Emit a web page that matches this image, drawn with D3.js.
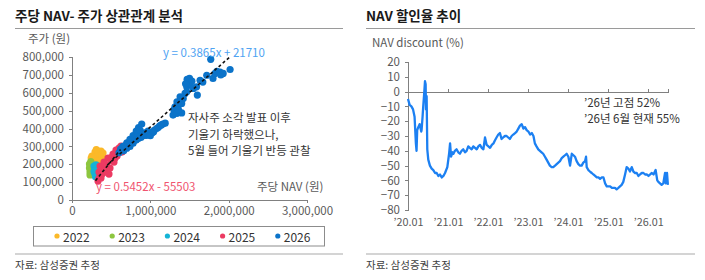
<!DOCTYPE html>
<html><head><meta charset="utf-8">
<script src="https://cdn.jsdelivr.net/npm/d3@7"></script>
<style>
body{margin:0;background:#fff}
svg{display:block}
text{font-family:"Noto Sans CJK KR","Noto Sans",sans-serif}
</style>
</head><body>
<svg id="c" width="705" height="280"></svg>
<script>
// ---------- Left chart data: [주당 NAV, 주가] ----------
const years = ["2022", "2023", "2024", "2025", "2026"];
const yearColors = ["#FBB929", "#8DC63F", "#14B4D6", "#EC3A62", "#0B73C9"];
const pts2022 = [[255000,246000],[255000,223000],[294000,268000],[294000,240000],[332000,274000],[332000,246000],
  [370000,274000],[370000,246000],[396000,263000],[409000,235000],[319000,218000],[358000,218000],[268000,207000],
  [345000,262000],[383000,255000],[245000,235000],[310000,282000]];
const pts2023 = [[223000,201000],[223000,179000],[230000,156000],[230000,140000],[243000,190000],[255000,168000],[240000,215000]];
const pts2024 = [[281000,190000],[294000,168000],[294000,145000],[306000,196000],[319000,179000],[281000,160000],[300000,130000]];
const pts2025 = [[345000,123000],[345000,156000],[358000,190000],[383000,145000],[396000,179000],[409000,212000],
  [434000,156000],[447000,190000],[460000,235000],[472000,145000],[485000,179000],[498000,223000],[524000,257000],
  [536000,212000],[562000,279000],[575000,246000],[600000,290000],[626000,302000],[639000,268000],[332000,106000],
  [370000,123000],[420000,200000],[510000,240000],[550000,235000]];
const pts2026 = [[600000,265000],[620000,285000],[650000,300000],[660000,275000],[700000,290000],[700000,320000],
  [740000,300000],[740000,340000],[780000,318000],[780000,360000],[820000,335000],[820000,385000],[850000,345000],
  [850000,405000],[880000,350000],[890000,425000],[910000,360000],[950000,362000],[980000,370000],[1020000,375000],
  [1050000,390000],[1080000,400000],[1120000,415000],[1160000,425000],[1190000,430000],[1290000,475000],
  [1300000,505000],[1315000,521000],[1340000,485000],[1340000,549000],[1360000,530000],[1400000,487000],
  [1360000,503000],[1380000,577000],[1400000,559000],[1400000,540000],[1420000,568000],[1443000,596000],
  [1465000,605000],[1465000,633000],[1486000,670000],[1490000,650000],[1510000,652000],[1470000,675000],
  [1500000,680000],[1530000,665000],[1450000,650000],[1550000,624000],[1600000,587000],[1590000,633000],
  [1635000,670000],[1670000,660000],[1720000,698000],[1771000,787000],[1800000,680000],[1826000,708000],
  [1850000,720000],[1890000,715000],[1900000,700000],[1930000,708000],[2018000,730000],
  [640000,290000],[680000,305000],[720000,310000],[760000,330000],[800000,350000],[840000,370000],[870000,390000],
  [930000,375000],[970000,385000],[1000000,360000],[1040000,380000],[1100000,405000],[1140000,420000]];
const seriesPts = [pts2022, pts2023, pts2024, pts2025, pts2026];
const trendA = {slope: 0.3865, intercept: 21710, from: 450000, to: 2030000, label: "y = 0.3865x + 21710"};
const trendB = {slope: 0.5452, intercept: -55503, from: 300000, to: 620000, label: "y = 0.5452x - 55503"};
const priceTicks = [0,100000,200000,300000,400000,500000,600000,700000,800000];
const navTicks = [0,1000000,2000000,3000000];

// ---------- Right chart data: NAV discount (%) ----------
const discountDates = ["2020-01-01","2020-01-16","2020-02-01","2020-02-16","2020-03-01","2020-03-13","2020-03-19","2020-03-25",
"2020-04-04","2020-04-16","2020-05-01","2020-05-04","2020-05-13","2020-05-19","2020-05-28","2020-06-04","2020-06-10","2020-06-13",
"2020-06-19","2020-06-25","2020-07-04","2020-07-19","2020-08-04","2020-08-19","2020-09-04","2020-09-19","2020-10-04","2020-10-19",
"2020-11-04","2020-11-19","2020-12-04","2020-12-25","2021-01-10","2021-01-19","2021-01-28","2021-02-10","2021-02-19","2021-03-04",
"2021-03-19","2021-04-04","2021-04-19","2021-05-04","2021-05-19","2021-06-04","2021-06-19","2021-07-04","2021-07-19","2021-08-04",
"2021-08-19","2021-09-04","2021-09-19","2021-10-04","2021-10-19","2021-11-04","2021-11-19","2021-12-04","2021-12-19","2022-01-04",
"2022-01-19","2022-02-04","2022-02-19","2022-03-04","2022-03-19","2022-04-04","2022-04-19","2022-05-04","2022-05-19","2022-06-04",
"2022-06-19","2022-07-04","2022-07-19","2022-08-04","2022-08-19","2022-09-04","2022-09-19","2022-10-04","2022-10-19","2022-11-04",
"2022-11-19","2022-12-04","2022-12-19","2023-01-04","2023-01-19","2023-02-04","2023-02-19","2023-03-04","2023-03-19","2023-04-04",
"2023-04-19","2023-05-04","2023-05-19","2023-06-04","2023-06-19","2023-07-04","2023-07-19","2023-08-04","2023-08-19","2023-09-04",
"2023-09-19","2023-10-04","2023-10-19","2023-11-04","2023-11-19","2023-12-04","2023-12-19","2024-01-04","2024-01-19","2024-02-04",
"2024-02-19","2024-03-04","2024-03-19","2024-04-04","2024-04-19","2024-05-04","2024-05-19","2024-06-04","2024-06-13","2024-06-19",
"2024-07-04","2024-07-19","2024-08-04","2024-08-19","2024-09-04","2024-09-19","2024-10-04","2024-10-19","2024-11-04","2024-11-19",
"2024-12-04","2024-12-19","2025-01-04","2025-01-19","2025-02-04","2025-02-19","2025-03-04","2025-03-19","2025-04-04","2025-04-19",
"2025-05-04","2025-05-19","2025-06-04","2025-06-19","2025-07-04","2025-07-19","2025-08-04","2025-08-19","2025-09-04","2025-09-19",
"2025-10-04","2025-10-19","2025-11-04","2025-11-19","2025-12-04","2025-12-19","2026-01-04","2026-01-19","2026-02-04","2026-02-19",
"2026-03-10","2026-03-25","2026-04-04","2026-04-19","2026-05-04","2026-05-19","2026-06-04","2026-06-10","2026-06-22","2026-06-30"];
const discountValues = [-5,-9,-10,-12,-17,-35,-40,-26,
-24,-22,-27,-26,-17,-10,-1,7,5,-12,
-3,-39,-46,-50,-52,-53,-55,-55,-57,-56,
-58,-57,-55,-51,-42,-35,-44,-41,-42,-40,
-39,-41,-42,-40,-39,-41,-40,-37,-38,-39,
-37,-38,-39,-37,-36,-38,-39,-31,-36,-37,
-38,-36,-35,-33,-31,-29,-28,-32,-31,-30,
-30,-31,-32,-30,-29,-28,-27,-25,-23,-22,
-25,-24,-26,-27,-29,-28,-30,-35,-37,-39,
-40,-41,-42,-44,-46,-48,-50,-51,-51,-50,
-49,-48,-47,-45,-44,-43,-42,-44,-50,-42,
-43,-44,-47,-49,-50,-50,-48,-47,-44,-51,
-53,-54,-55,-56,-57,-58,-58,-59,-58,-58,
-62,-64,-64,-64,-65,-65,-65,-66,-65,-64,
-63,-61,-56,-51,-52,-54,-51,-54,-55,-55,
-57,-56,-55,-55,-56,-56,-57,-56,-55,-56,
-53,-60,-61,-62,-63,-62,-55,-62,-55,-63];
const discountTicks = [-80,-70,-60,-50,-40,-30,-20,-10,0,10,20];
const yearTickDates = ["2020-01-01","2021-01-01","2022-01-01","2023-01-01","2024-01-01","2025-01-01","2026-01-01"];

const svg = d3.select("#c");
const axisCol = "#808080", tickTxt = "#595959";

function styleAxis(g){
  g.selectAll("path,line").attr("stroke", axisCol).attr("shape-rendering","crispEdges");
  g.selectAll("text").attr("fill", tickTxt).attr("font-size", 11.5);
}

// ---------- Frames / titles ----------
function frame(x0, x1, title){
  svg.append("text").attr("x", x0).attr("y", 15).attr("dominant-baseline","central")
    .attr("font-size", 13.5).attr("font-weight", 700).attr("fill", "#1a1a1a").text(title);
  svg.append("line").attr("x1", x0).attr("x2", x1).attr("y1", 28.5).attr("y2", 28.5).attr("stroke", "#9a9a9a");
  svg.append("line").attr("x1", x0).attr("x2", x1).attr("y1", 254).attr("y2", 254).attr("stroke", "#d4d4d4").attr("stroke-width", 2);
  svg.append("text").attr("x", x0).attr("y", 264).attr("dominant-baseline","central")
    .attr("font-size", 10.5).attr("fill", "#404040").text("자료: 삼성증권 추정");
}
frame(15, 343, "주당 NAV- 주가 상관관계 분석");
frame(366, 695, "NAV 할인율 추이");

// ---------- Left scatter ----------
const xL = d3.scaleLinear().domain([0, 3000000]).range([72, 307]);
const yL = d3.scaleLinear().domain([0, 800000]).range([200, 57]);

svg.append("g").attr("transform", "translate(72,0)")
  .call(d3.axisLeft(yL).tickValues(priceTicks).tickFormat(d3.format(",")).tickSize(3).tickPadding(5))
  .call(styleAxis);
svg.append("g").attr("transform", "translate(0,200)")
  .call(d3.axisBottom(xL).tickValues(navTicks).tickFormat(d3.format(",")).tickSize(3).tickPadding(4))
  .call(styleAxis);

svg.append("text").attr("x", 28).attr("y", 38).attr("dominant-baseline","central")
  .attr("font-size", 11.5).attr("fill", tickTxt).text("주가 (원)");
svg.append("text").attr("x", 257).attr("y", 186).attr("dominant-baseline","central")
  .attr("font-size", 11.5).attr("fill", tickTxt).text("주당 NAV (원)");

seriesPts.forEach((pts, i) => {
  svg.append("g").selectAll("circle").data(pts).join("circle")
    .attr("cx", d => xL(d[0])).attr("cy", d => yL(d[1])).attr("r", 3.6)
    .attr("fill", yearColors[i]);
});

[trendB, trendA].forEach(t => {
  svg.append("line")
    .attr("x1", xL(t.from)).attr("y1", yL(t.slope * t.from + t.intercept))
    .attr("x2", xL(t.to)).attr("y2", yL(t.slope * t.to + t.intercept))
    .attr("stroke", "#111").attr("stroke-width", 1.6).attr("stroke-dasharray", "3,2.5");
});

svg.append("text").attr("x", 163).attr("y", 52).attr("dominant-baseline","central")
  .attr("font-size", 11.5).attr("fill", "#4FA3F2").text(trendA.label);
svg.append("text").attr("x", 96).attr("y", 186).attr("dominant-baseline","central")
  .attr("font-size", 11.5).attr("fill", "#F0546F").text(trendB.label);

const noteL = ["자사주 소각 발표 이후", "기울기 하락했으나,", "5월 들어 기울기 반등 관찰"];
noteL.forEach((s, i) => {
  svg.append("text").attr("x", 188).attr("y", 117 + i * 16.5).attr("dominant-baseline","central")
    .attr("font-size", 11.5).attr("fill", "#333").text(s);
});

// Legend
svg.append("rect").attr("x", 33.5).attr("y", 226.5).attr("width", 291).attr("height", 19.5)
  .attr("fill", "none").attr("stroke", "#8c8c8c");
years.forEach((yr, i) => {
  const lx = 57 + i * 55.2;
  svg.append("circle").attr("cx", lx).attr("cy", 236).attr("r", 2.6).attr("fill", yearColors[i]);
  svg.append("text").attr("x", lx + 6).attr("y", 236.5).attr("dominant-baseline","central")
    .attr("font-size", 12).attr("fill", "#333").text(yr);
});

// ---------- Right line chart ----------
const parse = d3.timeParse("%Y-%m-%d");
const lineData = discountDates.map((d, i) => ({date: parse(d), v: discountValues[i]}));
const xR = d3.scaleTime().domain([parse("2020-01-01"), parse("2026-07-01")]).range([408, 668]);
const yR = d3.scaleLinear().domain([-80, 20]).range([210, 62]);

svg.append("g").attr("transform", "translate(408,0)")
  .call(d3.axisLeft(yR).tickValues(discountTicks).tickFormat(d3.format("d")).tickSize(3).tickPadding(5))
  .call(styleAxis);
const yt = yearTickDates.map(parse);
svg.append("g").attr("transform", `translate(0,${yR(0)})`)
  .call(d3.axisBottom(xR).tickValues(yt).tickSize(-3).tickFormat(""))
  .call(styleAxis);
svg.append("g").attr("transform", "translate(0,217)")
  .call(d3.axisBottom(xR).tickValues(yt).tickSize(0).tickPadding(1).tickFormat(d3.timeFormat("’%y.%m")))
  .call(g => g.select(".domain").remove())
  .call(styleAxis)
  .call(g => g.selectAll("text").attr("font-size", 10.8));

svg.append("text").attr("x", 372).attr("y", 42).attr("dominant-baseline","central")
  .attr("font-size", 11.5).attr("fill", tickTxt).text("NAV discount (%)");

svg.append("path").datum(lineData)
  .attr("d", d3.line().x(d => xR(d.date)).y(d => yR(d.v)))
  .attr("fill", "none").attr("stroke", "#1C80F2").attr("stroke-width", 2.3).attr("stroke-linejoin", "round");

const noteR = ["’26년 고점 52%", "’26년 6월 현재 55%"];
noteR.forEach((s, i) => {
  svg.append("text").attr("x", 584).attr("y", 102 + i * 16).attr("dominant-baseline","central")
    .attr("font-size", 11.5).attr("fill", "#333").text(s);
});
</script>
</body></html>
